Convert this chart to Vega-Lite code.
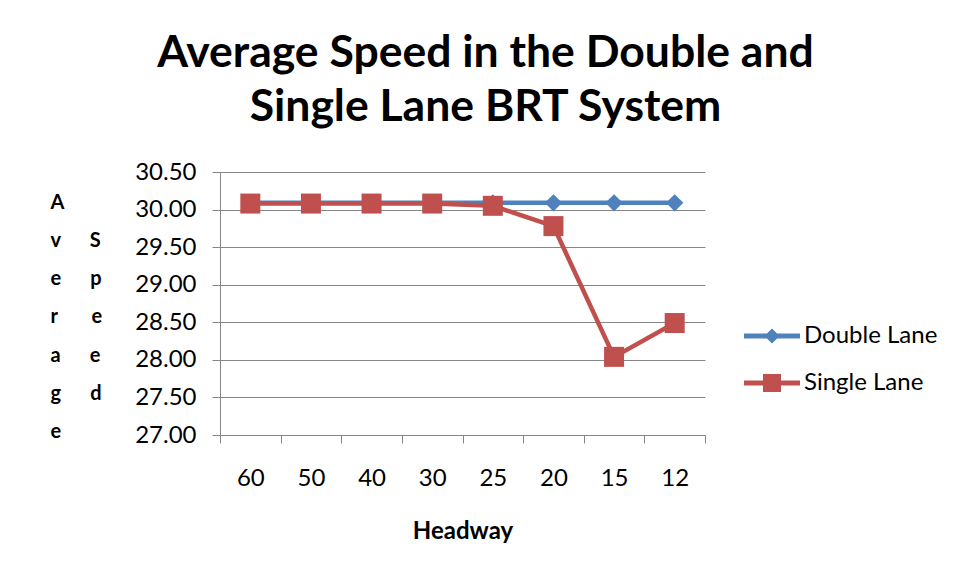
{
  "$schema": "https://vega.github.io/schema/vega-lite/v6.json",
  "width": 485,
  "height": 263,
  "autosize": {"type": "none"},
  "padding": {"left": 220, "top": 172, "right": 260, "bottom": 144},
  "background": "white",
  "title": {
    "text": ["Average Speed in the Double and", "Single Lane BRT System"],
    "font": "Lato",
    "fontSize": 44.5,
    "fontWeight": "bold",
    "color": "#000000",
    "lineHeight": 54,
    "anchor": "middle",
    "frame": "group",
    "baseline": "bottom",
    "dx": 23,
    "offset": -14
  },
  "config": {
    "view": {"stroke": null},
    "font": "Lato"
  },
  "data": {
    "values": [
      {"headway": "60", "series": "Double Lane", "speed": 30.09},
      {"headway": "50", "series": "Double Lane", "speed": 30.09},
      {"headway": "40", "series": "Double Lane", "speed": 30.09},
      {"headway": "30", "series": "Double Lane", "speed": 30.09},
      {"headway": "25", "series": "Double Lane", "speed": 30.09},
      {"headway": "20", "series": "Double Lane", "speed": 30.09},
      {"headway": "15", "series": "Double Lane", "speed": 30.09},
      {"headway": "12", "series": "Double Lane", "speed": 30.09},
      {"headway": "60", "series": "Single Lane", "speed": 30.08},
      {"headway": "50", "series": "Single Lane", "speed": 30.08},
      {"headway": "40", "series": "Single Lane", "speed": 30.08},
      {"headway": "30", "series": "Single Lane", "speed": 30.08},
      {"headway": "25", "series": "Single Lane", "speed": 30.05},
      {"headway": "20", "series": "Single Lane", "speed": 29.78},
      {"headway": "15", "series": "Single Lane", "speed": 28.04},
      {"headway": "12", "series": "Single Lane", "speed": 28.49}
    ]
  },
  "encoding": {
    "x": {
      "field": "headway",
      "type": "nominal",
      "sort": ["60", "50", "40", "30", "25", "20", "15", "12"],
      "scale": {"type": "band", "paddingInner": 0, "paddingOuter": 0},
      "axis": {
        "title": "Headway",
        "titleFont": "Lato",
        "titleFontSize": 24,
        "titleFontWeight": "bold",
        "titleColor": "#000000",
        "titlePadding": 29,
        "labelAngle": 0,
        "labelFont": "Lato",
        "labelFontSize": 24,
        "labelColor": "#000000",
        "labelPadding": 23,
        "tickBand": "extent",
        "tickSize": 8,
        "tickColor": "#868686",
        "domainColor": "#868686",
        "grid": false
      }
    },
    "y": {
      "field": "speed",
      "type": "quantitative",
      "scale": {"domain": [27, 30.5], "nice": false, "zero": false},
      "axis": {
        "values": [27, 27.5, 28, 28.5, 29, 29.5, 30, 30.5],
        "format": ".2f",
        "labelFont": "Lato",
        "labelFontSize": 24,
        "labelColor": "#000000",
        "labelPadding": 16,
        "tickSize": 8,
        "tickColor": "#868686",
        "domainColor": "#868686",
        "grid": true,
        "gridColor": "#868686",
        "gridWidth": 1,
        "title": ["A", "v\u00a0\u00a0\u00a0\u00a0\u00a0\u00a0S", "e\u00a0\u00a0\u00a0\u00a0\u00a0\u00a0p", "r\u00a0\u00a0\u00a0\u00a0\u00a0\u00a0\u00a0e", "a\u00a0\u00a0\u00a0\u00a0\u00a0\u00a0e", "g\u00a0\u00a0\u00a0\u00a0\u00a0\u00a0d", "e"],
        "titleAngle": 0,
        "titleAlign": "left",
        "titleBaseline": "top",
        "titleFont": "Lato",
        "titleFontSize": 20,
        "titleFontWeight": "bold",
        "titleColor": "#000000",
        "titleLineHeight": 38.3,
        "titleX": -170,
        "titleY": 20
      }
    }
  },
  "layer": [
    {
      "transform": [{"filter": "datum.series === 'Double Lane'"}],
      "mark": {"type": "line", "strokeWidth": 4.5, "color": "#4F81BD"}
    },
    {
      "transform": [{"filter": "datum.series === 'Single Lane'"}],
      "mark": {"type": "line", "strokeWidth": 4.5, "color": "#C0504D"}
    },
    {
      "transform": [{"filter": "datum.series === 'Double Lane'"}],
      "mark": {"type": "point", "filled": true, "opacity": 1, "shape": "diamond", "size": 300, "color": "#4F81BD"}
    },
    {
      "transform": [{"filter": "datum.series === 'Single Lane'"}],
      "mark": {"type": "point", "filled": true, "opacity": 1, "shape": "square", "size": 400, "color": "#C0504D"}
    },
    {
      "transform": [{"filter": "datum.speed < 0"}],
      "mark": {"type": "point", "filled": true, "opacity": 1},
      "encoding": {
        "color": {
          "field": "series",
          "type": "nominal",
          "scale": {"domain": ["Double Lane", "Single Lane"], "range": ["#4F81BD", "#C0504D"]},
          "legend": {
            "title": null,
            "orient": "none",
            "legendX": 532,
            "legendY": 144,
            "padding": 0,
            "symbolSize": 1600,
            "symbolStrokeWidth": 0,
            "rowPadding": 15,
            "labelOffset": 12,
            "labelFont": "Lato",
            "labelFontSize": 24,
            "labelColor": "#000000"
          }
        },
        "shape": {
          "field": "series",
          "type": "nominal",
          "scale": {
            "domain": ["Double Lane", "Single Lane"],
            "range": [
              "M-1.4,-0.12L1.4,-0.12L1.4,0.12L-1.4,0.12Z M0,-0.38L0.38,0L0,0.38L-0.38,0Z",
              "M-1.4,-0.12L1.4,-0.12L1.4,0.12L-1.4,0.12Z M-0.45,-0.45L0.45,-0.45L0.45,0.45L-0.45,0.45Z"
            ]
          },
          "legend": {
            "title": null,
            "orient": "none",
            "legendX": 532,
            "legendY": 144,
            "padding": 0,
            "symbolSize": 1600,
            "symbolStrokeWidth": 0,
            "rowPadding": 15,
            "labelOffset": 12,
            "labelFont": "Lato",
            "labelFontSize": 24,
            "labelColor": "#000000"
          }
        }
      }
    }
  ]
}
